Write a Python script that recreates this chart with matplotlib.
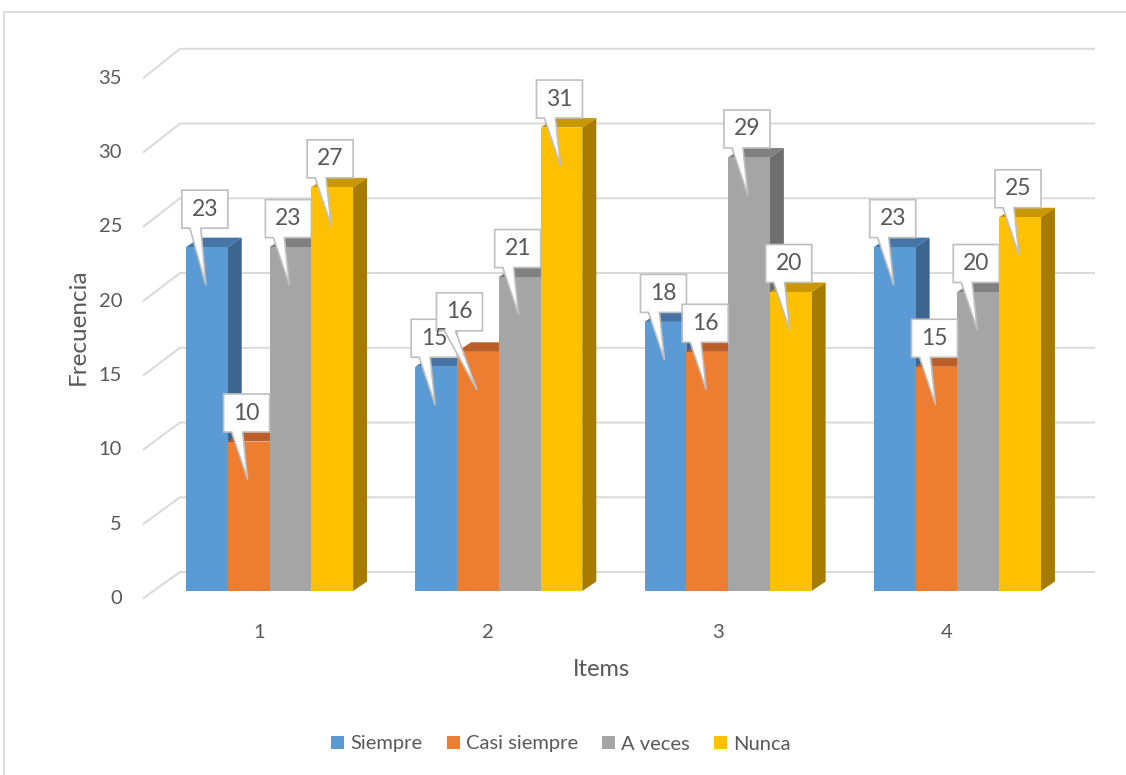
import matplotlib.pyplot as plt
from matplotlib.patches import Polygon, Patch
from matplotlib.lines import Line2D

# data
items = ['1', '2', '3', '4']
series = ['Siempre', 'Casi siempre', 'A veces', 'Nunca']
siempre = [23, 15, 18, 23]
casi_siempre = [10, 16, 16, 15]
a_veces = [23, 21, 29, 20]
nunca = [27, 31, 20, 25]
yticks = [0, 5, 10, 15, 20, 25, 30, 35]

values = [siempre, casi_siempre, a_veces, nunca]

front_col = ['#5B9BD5', '#ED7D31', '#A5A5A5', '#FFC000']
top_col = ['#4674A6', '#BC5E27', '#808080', '#C99700']
side_col = ['#3C6690', '#A8541F', '#6E6E6E', '#A67C00']
grid_col = '#D9D9D9'
txt_col = '#595959'

plt.rcParams['font.family'] = ['Lato', 'DejaVu Sans']

W, H = 1126, 775
PXX = 229.3   # pixels per category
PXY = 14.95   # pixels per unit of frequency
X0, Y0 = 269.5, 591   # pixel of category 0 / value 0


def dx(p):
    return p / PXX


def dy(p):
    return p / PXY


fig = plt.figure(figsize=(W / 100, H / 100), dpi=100)
ax = fig.add_axes([100 / W, 1 - 620 / H, 1010 / W, 600 / H])
ax.set_xlim((100 - X0) / PXX, (1110 - X0) / PXX)
ax.set_ylim((Y0 - 620) / PXY, (Y0 - 20) / PXY)
ax.axis('off')

# outer frame (left and top edges visible)
fig.add_artist(Line2D([4 / W, 4 / W], [0, 1 - 12 / H], color=grid_col, lw=1.2))
fig.add_artist(Line2D([4 / W, 1], [1 - 12 / H, 1 - 12 / H], color=grid_col, lw=1.2))

# 3d gridlines: short diagonal on the side wall, long line on the back wall
xf = dx(143 - X0)
xb = xf + dx(37)
xe = dx(1095 - X0)
for v in yticks:
    yf = v * 0.994 - 0.5
    yb = v + 1.27
    ax.plot([xf, xb, xe], [yf, yb, yb], color=grid_col, lw=1.4, zorder=1,
            solid_capstyle='butt')
    ax.text(dx(122 - X0), yf, str(v), ha='right', va='center',
            fontsize=14.5, color=txt_col)

# bars
bw = 1 / 5.49
ddx, ddy = dx(14), dy(9.5)
for j, vals in enumerate(values):
    xs = [i + (j - 1.5) * bw for i in range(len(items))]
    for x, v in zip(xs, vals):
        xl, xr = x - bw / 2, x + bw / 2
        ax.add_patch(Polygon([(xr, 0), (xr + ddx, ddy), (xr + ddx, v + ddy), (xr, v)],
                             closed=True, fc=side_col[j], ec='none', zorder=2 + 2 * j))
        ax.add_patch(Polygon([(xl, v), (xr, v), (xr + ddx, v + ddy), (xl + ddx, v + ddy)],
                             closed=True, fc=top_col[j], ec='none', zorder=2 + 2 * j))
    ax.bar(xs, vals, width=bw, color=front_col[j], lw=0, zorder=3 + 2 * j)

# callout labels, default spot above each bar, a couple nudged like excel did
nudge_x = [[0, 0, 0, 0], [0, -16.5, 0, 0], [0, 0, 0, 0], [0, 0, 0, 0]]
nudge_y = [[9.5, 0, 0, 0], [0, 11.5, 0, 0], [0, 0, 0, 0], [0, 0, 0, 0]]
bx_w, bx_h = dx(46), dy(38)
for i in range(len(items)):
    for j, vals in enumerate(values):
        v = vals[i]
        xc = i + (j - 1.5) * bw
        cx = xc + dx(-2 + nudge_x[i][j])
        yb0 = v + dy(9.5 + nudge_y[i][j])
        left, right = cx - bx_w / 2, cx + bx_w / 2
        tip = (xc - dx(1), v - dy(38))
        pts = [(left, yb0 + bx_h), (right, yb0 + bx_h), (right, yb0),
               (left + dx(19), yb0), tip, (left + dx(8), yb0), (left, yb0)]
        ax.add_patch(Polygon(pts, closed=True, fc='white', ec='#BFBFBF', lw=1.2,
                             zorder=20, joinstyle='miter'))
        ax.text(cx, yb0 + bx_h / 2, str(v), ha='center', va='center',
                fontsize=16.5, color=txt_col, zorder=21)

# category labels
for i, lab in enumerate(items):
    ax.text(i - dx(10.5), dy(-41), lab, ha='center', va='center',
            fontsize=14.5, color=txt_col)

fig.text(601 / W, 1 - 669 / H, 'Items', ha='center', va='center',
         fontsize=17, color=txt_col)
fig.text(78 / W, 1 - 327 / H, 'Frecuencia', ha='center', va='center',
         rotation=90, fontsize=17.5, color=txt_col)

handles = [Patch(fc=c, ec='none') for c in front_col]
fig.legend(handles, series, loc='center', bbox_to_anchor=(561 / W, 1 - 744 / H),
           ncol=4, frameon=False, fontsize=14.5, handlelength=0.65,
           handleheight=0.65, handletextpad=0.3, columnspacing=1.2,
           labelcolor=txt_col)

fig.savefig('out.png', dpi=100)
